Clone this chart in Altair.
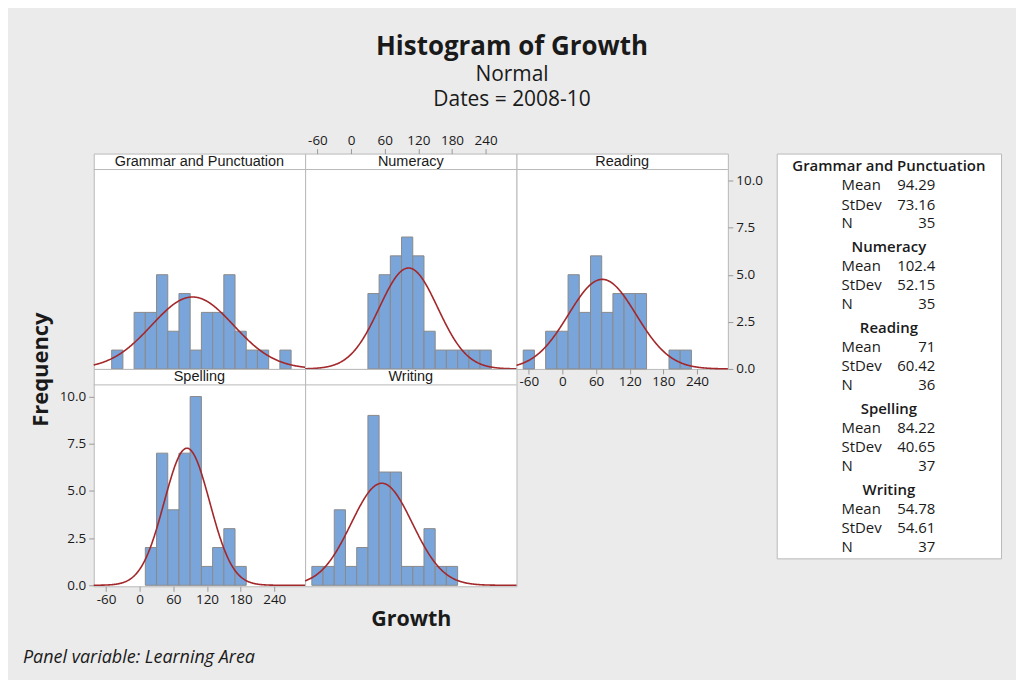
import altair as alt
import numpy as np
import pandas as pd

# ---------------- data ----------------
AREAS = ["Grammar and Punctuation", "Numeracy", "Reading", "Spelling", "Writing"]
MEANS = [94.29, 102.4, 71, 84.22, 54.78]
STDEVS = [73.16, 52.15, 60.42, 40.65, 54.61]
NS = [35, 35, 36, 37, 37]
BIN_WIDTH = 20

G_CENTERS = [-40, 0, 20, 40, 60, 80, 100, 120, 140, 160, 180, 200, 220, 260]
G_COUNTS = [1, 3, 3, 5, 2, 4, 1, 3, 3, 5, 2, 1, 1, 1]
N_CENTERS = [40, 60, 80, 100, 120, 140, 160, 180, 200, 220, 240]
N_COUNTS = [4, 5, 6, 7, 6, 2, 1, 1, 1, 1, 1]
R_CENTERS = [-60, -20, 0, 20, 40, 60, 80, 100, 120, 140, 200, 220]
R_COUNTS = [1, 2, 2, 5, 3, 6, 3, 4, 4, 4, 1, 1]
S_CENTERS = [20, 40, 60, 80, 100, 120, 140, 160, 180]
S_COUNTS = [2, 7, 4, 7, 10, 1, 2, 3, 1]
W_CENTERS = [-60, -40, -20, 0, 20, 40, 60, 80, 100, 120, 140, 160, 180]
W_COUNTS = [1, 1, 4, 1, 2, 9, 6, 6, 1, 1, 3, 1, 1]

X_TICKS = [-60, 0, 60, 120, 180, 240]
Y_TICKS = [0, 2.5, 5, 7.5, 10]

# ---------------- style ----------------
XDOM = [-82, 295]
BLUE = "#7aa5db"
BAR_STROKE = "#8a8a8a"
RED = "#a3282b"
BORDER = "#b9b9b9"
BG = "#ebebeb"
TEXT = "#1a1a1a"
FONT = "Open Sans"
W = 212
HDR = 16

bars = pd.concat([
    pd.DataFrame({"area": a, "center": c, "count": n})
    for a, c, n in zip(AREAS,
                       [G_CENTERS, N_CENTERS, R_CENTERS, S_CENTERS, W_CENTERS],
                       [G_COUNTS, N_COUNTS, R_COUNTS, S_COUNTS, W_COUNTS])
], ignore_index=True)
stats = pd.DataFrame({"area": AREAS, "mean": MEANS, "sd": STDEVS, "n": NS})
curve = stats.merge(pd.DataFrame({"x": np.linspace(XDOM[0], XDOM[1], 400)}), how="cross")


def xaxis(orient):
    return alt.Axis(orient=orient, values=X_TICKS, labelExpr="''+datum.value",
                    domain=False, grid=False, tickSize=5, tickColor="#9a9a9a",
                    labelFont=FONT, labelFontSize=13.5, labelColor=TEXT,
                    labelPadding=1, title=None)


def yaxis(orient):
    return alt.Axis(orient=orient, values=Y_TICKS, format=".1f",
                    domain=False, grid=False, tickSize=5, tickColor="#9a9a9a",
                    labelFont=FONT, labelFontSize=13.5, labelColor=TEXT,
                    labelPadding=3, title=None)


def panel(area, h, xax=None, yax=None, extras=()):
    ytop = (h - 1 - HDR) / 18.93 if h > 216 else (h - HDR) / 18.9
    bottom = h - 1 if h > 216 else h
    xs = alt.Scale(domain=XDOM, nice=False, zero=False)
    ys = alt.Scale(domain=[0, ytop], range=[bottom, HDR], nice=False, zero=False)
    hist = alt.Chart(bars).transform_filter(
        alt.datum.area == area
    ).transform_calculate(
        x0=f"datum.center - {BIN_WIDTH}/2", x1=f"datum.center + {BIN_WIDTH}/2"
    ).mark_rect(fill=BLUE, stroke=BAR_STROKE, strokeWidth=1).encode(
        x=alt.X("x0:Q", scale=xs, axis=xax),
        x2="x1:Q",
        y=alt.Y("count:Q", scale=ys, axis=yax),
        y2=alt.datum(0),
    )
    fit = alt.Chart(curve).transform_filter(
        alt.datum.area == area
    ).transform_calculate(
        dens=f"datum.n * {BIN_WIDTH} * densityNormal(datum.x, datum.mean, datum.sd)"
    ).mark_line(color=RED, strokeWidth=1.6).encode(
        x=alt.X("x:Q", scale=xs, axis=xax),
        y=alt.Y("dens:Q", scale=ys, axis=yax),
    )
    sep = alt.Chart(stats).transform_filter(alt.datum.area == area).mark_rule(
        color=BORDER, strokeWidth=1
    ).encode(x=alt.value(0), x2=alt.value(W), y=alt.value(HDR))
    hdr = alt.Chart(stats).transform_filter(alt.datum.area == area).mark_text(
        font="Liberation Sans", fontSize=14.5, color=TEXT, baseline="middle", align="center"
    ).encode(x=alt.value(W / 2), y=alt.value(HDR / 2 + 0.5), text="area:N")
    layers = [hist, fit, sep, hdr]
    for txt, x, y, kw in extras:
        layers.append(
            alt.Chart(stats).transform_filter(alt.datum.area == area)
            .mark_text(text=txt, font=FONT, color=TEXT, baseline="middle", **kw)
            .encode(x=alt.value(x), y=alt.value(y))
        )
    return alt.layer(*layers).properties(width=W, height=h)


g = panel(AREAS[0], 216, extras=[("Frequency", -53, 216.7,
                                  dict(fontSize=22, fontWeight="bold", angle=270, align="center"))])
n = panel(AREAS[1], 216, xax=xaxis("top"))
r = panel(AREAS[2], 216, xax=xaxis("bottom"), yax=yaxis("right"))
s = panel(AREAS[3], 218, xax=xaxis("bottom"), yax=yaxis("left"),
          extras=[("Panel variable: Learning Area", -71, 290,
                   dict(fontSize=18, fontStyle="italic", align="left"))])
w = panel(AREAS[4], 218, extras=[("Growth", 106.5, 252.3,
                                  dict(fontSize=21.5, fontWeight="bold", align="center"))])

grid = alt.concat(g, n, r, s, w, columns=3, spacing=0, bounds="flush", align="each")

# legend / stats box
lbase = alt.Chart(stats).encode(
    y=alt.Y("area:N", sort=AREAS, scale=alt.Scale(type="point", padding=0.5), axis=None)
)
tk = dict(font=FONT, fontSize=15, color=TEXT, baseline="middle")
legend = alt.layer(
    lbase.mark_text(align="center", dy=-28, fontWeight=600, **tk).encode(
        x=alt.value(112.5), text="area:N"),
    lbase.mark_text(text="Mean", align="left", dy=-9, **tk).encode(x=alt.value(65)),
    lbase.mark_text(align="right", dy=-9, **tk).encode(
        x=alt.value(159), text=alt.Text("mean:Q", format=".4~r")),
    lbase.mark_text(text="StDev", align="left", dy=10.5, **tk).encode(x=alt.value(65)),
    lbase.mark_text(align="right", dy=10.5, **tk).encode(
        x=alt.value(159), text=alt.Text("sd:Q", format=".4~r")),
    lbase.mark_text(text="N", align="left", dy=29.5, **tk).encode(x=alt.value(65)),
    lbase.mark_text(align="right", dy=29.5, **tk).encode(
        x=alt.value(159), text=alt.Text("n:Q", format="d")),
).properties(width=225, height=406)

chart = alt.hconcat(grid, legend, spacing=12).properties(
    title=alt.TitleParams(
        text="Histogram of Growth",
        subtitle=["Normal", "Dates = 2008-10"],
        font=FONT, fontSize=26, fontWeight="bold", color=TEXT,
        subtitleFont=FONT, subtitleFontSize=21, subtitleColor=TEXT,
        subtitleLineHeight=25, subtitlePadding=4,
        anchor="middle", offset=23,
    ),
    background=BG,
    padding={"left": 14, "top": 25, "right": 14, "bottom": 11},
).configure_view(fill="white", stroke=BORDER, strokeWidth=1)

chart.save("out.html", embed_options={"renderer": "svg", "actions": False})
